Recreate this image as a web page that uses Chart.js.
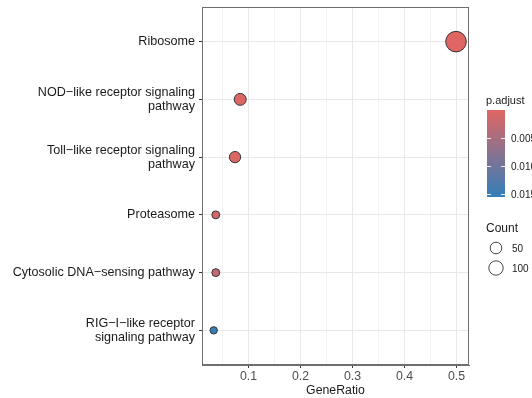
<!DOCTYPE html>
<html>
<head>
<meta charset="utf-8">
<script src="https://cdn.jsdelivr.net/npm/chart.js@4/dist/chart.umd.min.js"></script>
<style>
html,body{margin:0;padding:0;background:#fff;}
#wrap{width:532px;height:398px;}
</style>
</head>
<body>
<div id="wrap"><canvas id="c" width="532" height="398"></canvas></div>
<script>
// ---- data ----
const categories = [
  "Ribosome",
  ["NOD\u2212like receptor signaling", "pathway"],
  ["Toll\u2212like receptor signaling", "pathway"],
  "Proteasome",
  "Cytosolic DNA\u2212sensing pathway",
  ["RIG\u2212I\u2212like receptor", "signaling pathway"]
];
const geneRatio = [0.499, 0.084, 0.074, 0.037, 0.037, 0.033];
const counts    = [135, 23, 20, 10, 10, 9];
const pAdjust   = [0.00001, 0.0003, 0.0005, 0.0008, 0.0026, 0.0155];
const xMajorTicks = [0.1, 0.2, 0.3, 0.4, 0.5];
const xMinorTicks = [0.05, 0.15, 0.25, 0.35, 0.45];
const pTicks = [0.005, 0.010, 0.015];
const pTickLabels = ["0.005", "0.010", "0.015"];
const countLegend = [50, 100];

// ---- styling helpers ----
const LOW = [224, 102, 99];   // #e06663
const HIGH = [50, 126, 186];  // #327eba
const pMin = Math.min(...pAdjust), pMax = Math.max(...pAdjust);
function pColor(p) {
  const t = (p - pMin) / (pMax - pMin);
  const c = LOW.map((v, i) => Math.round(v + (HIGH[i] - v) * t));
  return `rgb(${c[0]},${c[1]},${c[2]})`;
}
function radius(n) { return 2.437 * Math.log(n) - 1.655; }

const FONT = '"Liberation Sans", Arial, Helvetica, sans-serif';

const points = geneRatio.map((g, i) => ({ x: g, y: i + 1, r: radius(counts[i]) }));

const legendPlugin = {
  id: 'extras',
  afterDraw(chart) {
    const ctx = chart.ctx;
    const a = chart.chartArea;
    ctx.save();
    // panel border
    ctx.strokeStyle = '#6e6e6e';
    ctx.lineWidth = 1;
    ctx.strokeRect(Math.round(a.left) + 0.5, Math.round(a.top) + 0.5,
      Math.round(a.right - a.left) - 1, Math.round(a.bottom - a.top) - 1);

    // colorbar
    const bx = 487, bw = 18, bTop = 110, bBot = 197;
    ctx.fillStyle = '#1a1a1a';
    ctx.font = '11px ' + FONT;
    ctx.textBaseline = 'middle';
    ctx.textAlign = 'left';
    ctx.fillText('p.adjust', 486, 101);
    const grad = ctx.createLinearGradient(0, bTop, 0, bBot);
    for (let k = 0; k <= 10; k++) {
      const t = k / 10;
      grad.addColorStop(t, pColor(pMin + t * (pMax - pMin)));
    }
    ctx.fillStyle = grad;
    ctx.fillRect(bx, bTop, bw, bBot - bTop);
    ctx.strokeStyle = 'rgba(255,255,255,0.9)';
    ctx.lineWidth = 1;
    ctx.font = '10px ' + FONT;
    pTicks.forEach((p, i) => {
      const y = Math.round(bTop + (p - pMin) / (pMax - pMin) * (bBot - bTop)) + 0.5;
      ctx.beginPath();
      ctx.moveTo(bx, y); ctx.lineTo(bx + 4, y);
      ctx.moveTo(bx + bw - 4, y); ctx.lineTo(bx + bw, y);
      ctx.stroke();
      ctx.fillStyle = '#1a1a1a';
      ctx.fillText(pTickLabels[i], 511, y + 1);
    });

    // count legend
    ctx.fillStyle = '#1a1a1a';
    ctx.font = '12px ' + FONT;
    ctx.fillText('Count', 486, 229);
    ctx.font = '10px ' + FONT;
    const legR = [5.8, 7.2], legY = [248, 268];
    countLegend.forEach((n, i) => {
      ctx.beginPath();
      ctx.arc(496, legY[i], legR[i], 0, Math.PI * 2);
      ctx.strokeStyle = '#333';
      ctx.lineWidth = 0.9;
      ctx.stroke();
      ctx.fillStyle = '#1a1a1a';
      ctx.fillText(String(n), 512, legY[i] + 1);
    });
    ctx.restore();
  }
};

new Chart(document.getElementById('c'), {
  type: 'bubble',
  data: {
    datasets: [{
      data: points,
      backgroundColor: pAdjust.map(pColor),
      borderColor: '#333333',
      borderWidth: 1,
      clip: false
    }]
  },
  options: {
    responsive: false,
    devicePixelRatio: 1,
    animation: false,
    events: [],
    layout: { autoPadding: false, padding: { top: 7, right: 63, bottom: 0, left: 0 } },
    plugins: { legend: { display: false }, tooltip: { enabled: false } },
    scales: {
      x: {
        type: 'linear',
        min: 0.0105,
        max: 0.524,
        afterBuildTicks(scale) {
          scale.ticks = [...xMinorTicks, ...xMajorTicks].sort((p, q) => p - q).map(v => ({ value: v }));
        },
        afterFit(scale) { scale.height = 33; scale.paddingLeft = 0; scale.paddingRight = 0; },
        ticks: {
          autoSkip: false,
          maxRotation: 0,
          padding: 1,
          color: '#4d4d4d',
          font: { family: FONT, size: 12.3 },
          callback(v) {
            return xMajorTicks.some(t => Math.abs(t - v) < 1e-9) ? String(v) : '';
          }
        },
        grid: {
          color(ctx) {
            const v = ctx.tick && ctx.tick.value;
            return xMajorTicks.some(t => Math.abs(t - v) < 1e-9) ? '#e8e8e8' : '#f3f3f3';
          },
          tickColor(ctx) {
            const v = ctx.tick && ctx.tick.value;
            return xMajorTicks.some(t => Math.abs(t - v) < 1e-9) ? '#333' : 'rgba(0,0,0,0)';
          },
          tickLength: 3,
          lineWidth: 1
        },
        border: { display: true, color: '#6e6e6e' },
        title: {
          display: true,
          text: 'GeneRatio',
          color: '#1a1a1a',
          font: { family: FONT, size: 12.3 },
          padding: { top: 0, bottom: 0 }
        }
      },
      y: {
        type: 'linear',
        min: 0.4,
        max: 6.6,
        reverse: true,
        afterBuildTicks(scale) {
          scale.ticks = categories.map((c, i) => ({ value: i + 1 }));
        },
        afterFit(scale) { scale.width = 202; scale.paddingTop = 0; scale.paddingBottom = 0; },
        ticks: {
          autoSkip: false,
          padding: 4,
          color: '#1a1a1a',
          font: { family: FONT, size: 12.6, lineHeight: 1.12 },
          callback(v) { return categories[Math.round(v) - 1]; }
        },
        grid: {
          color: '#e8e8e8',
          tickColor: '#333',
          tickLength: 3,
          lineWidth: 1
        },
        border: { display: true, color: '#6e6e6e' }
      }
    }
  },
  plugins: [legendPlugin]
});
</script>
</body>
</html>
